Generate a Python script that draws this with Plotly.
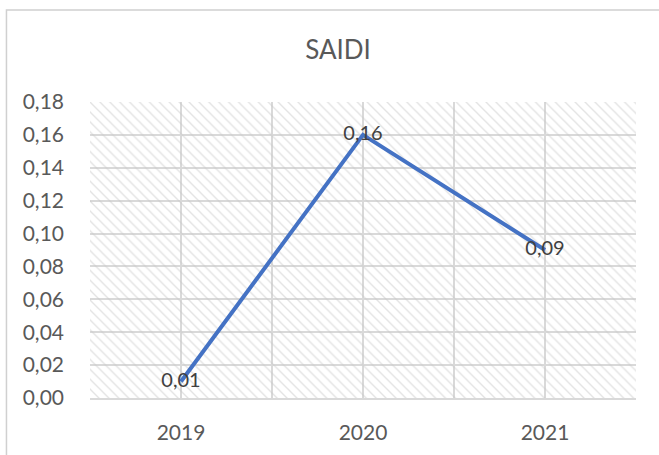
import plotly.graph_objects as go

# SAIDI values per year
years = ["2019", "2020", "2021"]
saidi = [0.01, 0.16, 0.09]
y_ticks = [0.00, 0.02, 0.04, 0.06, 0.08, 0.10, 0.12, 0.14, 0.16, 0.18]

pos = list(range(len(years)))
x_lo, x_hi = -0.5, len(years) - 0.5
y_lo, y_hi = y_ticks[0], y_ticks[-1]

# gridlines at category centres and boundaries, labels only at centres
grid_vals = [x_lo + 0.5 * i for i in range(2 * len(years) + 1)]
grid_text = [years[int(v)] if float(v).is_integer() and 0 <= v < len(years) else "" for v in grid_vals]

FONT = "Lato, Carlito, sans-serif"

fig = go.Figure()

# hatched plot-area background (transparent gaps so the gridlines show through)
fig.add_trace(go.Scatter(
    x=[x_lo, x_hi, x_hi, x_lo, x_lo],
    y=[y_lo, y_lo, y_hi, y_hi, y_lo],
    mode="lines",
    line=dict(width=0),
    fill="toself",
    fillcolor="rgba(0,0,0,0)",
    fillpattern=dict(shape="\\", fgcolor="#c8c8c8", bgcolor="rgba(0,0,0,0)",
                     size=7, solidity=0.2),
    hoverinfo="skip",
    showlegend=False,
))

fig.add_trace(go.Scatter(
    x=pos,
    y=saidi,
    mode="lines+text",
    line=dict(color="#4472C4", width=4),
    text=[f"{v:.2f}".replace(".", ",") for v in saidi],
    textposition="middle center",
    textfont=dict(family=FONT, size=20, color="#404040"),
    showlegend=False,
    cliponaxis=False,
))

fig.update_layout(
    width=659,
    height=455,
    margin=dict(l=90, r=23, t=102, b=57),
    paper_bgcolor="white",
    plot_bgcolor="white",
    separators=",.",
    font=dict(family=FONT, color="#595959"),
    title=dict(
        text="SAIDI",
        x=338 / 659, xref="container", xanchor="center",
        y=1 - 50 / 455, yref="container", yanchor="middle",
        font=dict(size=26, color="#595959"),
    ),
    xaxis=dict(
        range=[x_lo, x_hi],
        tickmode="array",
        tickvals=grid_vals,
        ticktext=grid_text,
        showgrid=True,
        gridcolor="#d9d9d9",
        gridwidth=1.5,
        zeroline=False,
        showline=True,
        linecolor="#d9d9d9",
        linewidth=1.5,
        ticks="",
        ticklabelstandoff=15,
        tickfont=dict(size=21, color="#595959"),
        fixedrange=True,
    ),
    yaxis=dict(
        range=[y_lo, y_hi],
        tickmode="array",
        tickvals=y_ticks,
        tickformat=".2f",
        showgrid=True,
        gridcolor="#d9d9d9",
        gridwidth=1.5,
        zeroline=False,
        showline=False,
        ticks="",
        ticklabelstandoff=25,
        tickfont=dict(size=21, color="#595959"),
        fixedrange=True,
    ),
    shapes=[
        dict(
            type="rect", xref="paper", yref="paper",
            x0=-0.153, x1=1.2, y0=-0.4, y1=1.311,
            line=dict(color="#d0d0d0", width=1.5),
            fillcolor="rgba(0,0,0,0)",
            layer="below",
        )
    ],
)

fig.write_html("out.html")
